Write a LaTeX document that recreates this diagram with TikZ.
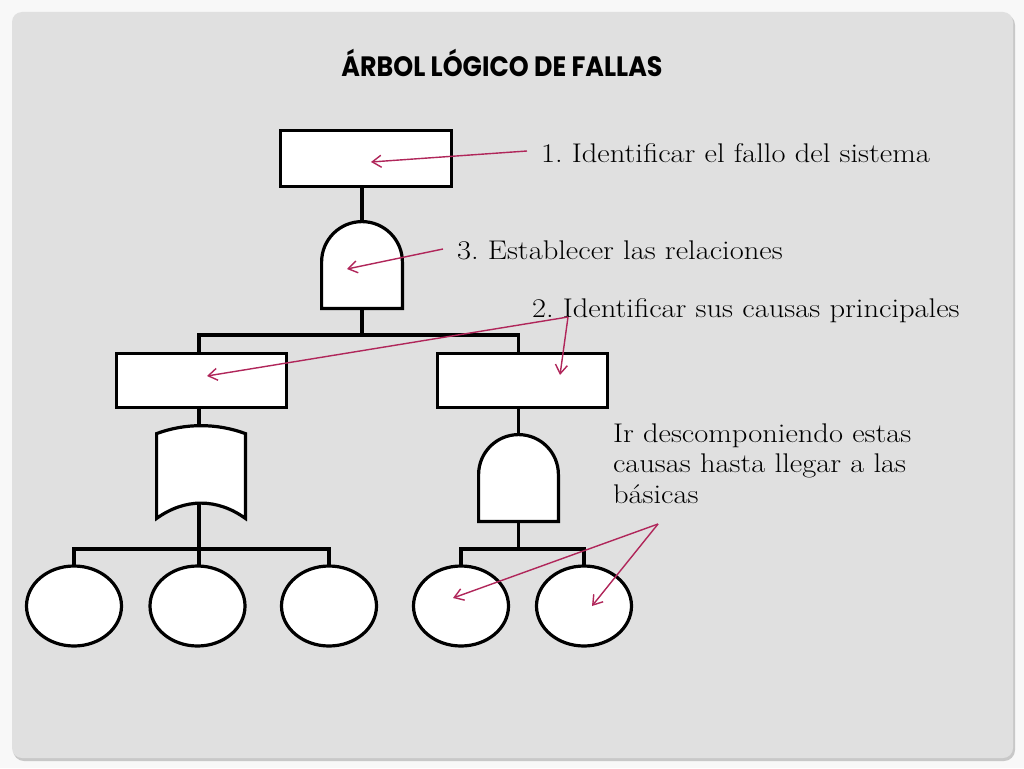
\documentclass[tikz,border=0pt]{standalone}
\usepackage{fontspec}
\usepackage{graphicx}
\newfontfamily\titlefont{Poppins}
\usetikzlibrary{shapes.geometric,arrows.meta}
\definecolor{panelc}{RGB}{224,224,224}
\definecolor{outerc}{RGB}{248,248,248}
\definecolor{shadowc}{RGB}{200,200,200}
\definecolor{arrowc}{RGB}{176,38,90}
\begin{document}
\frenchspacing
\begin{tikzpicture}[x=1pt,y=-1pt,
  box/.style={draw=black,line width=3.2pt,fill=white,minimum width=170.5pt,minimum height=55.5pt,inner sep=0pt,outer sep=0pt},
  basic/.style={draw=black,line width=3.2pt,fill=white,ellipse,minimum width=95pt,minimum height=80pt,inner sep=0pt,outer sep=0pt},
  gateshape/.style={draw=black,line width=3.2pt,fill=white,line join=miter},
  wire/.style={draw=black,line width=3.2pt},
  pointer/.style={draw=arrowc,line width=1.4pt,-{Straight Barb[length=9pt,width=12pt,line width=1.4pt]}},
  txt/.style={anchor=base west,inner sep=0pt,outer sep=0pt,font=\fontsize{27}{30.5}\selectfont}
]
\useasboundingbox (0,0) rectangle (1024,768);
\fill[outerc] (0,0) rectangle (1024,768);
\fill[shadowc,rounded corners=11pt] (13,14) rectangle (1015,761);
\fill[panelc,rounded corners=10pt] (12,12) rectangle (1013,758);

% title
\node[anchor=base,inner sep=0pt] (title) at (502,77)
  {\titlefont\bfseries\fontsize{28}{28}\selectfont\scalebox{0.905}[1]{ÁRBOL LÓGICO DE FALLAS}};

% boxes
\node[box] (top) at (366,158.5) {};
\node[box,minimum height=54pt] (ml) at (201.5,380.5) {};
\node[box,minimum height=54pt] (mr) at (522.5,380.5) {};

% top AND gate
\coordinate (g1in) at (362,221.6);
\coordinate (g1out) at (362,308.4);
\draw[gateshape] (321.6,308.4) -- (321.6,262) arc[start angle=180,end angle=360,radius=40.4] -- (402.4,308.4) -- cycle;

% OR gate under left box
\coordinate (orin) at (199,426);
\coordinate (orout) at (199,502);
\draw[gateshape] (156.6,433.6) .. controls (185,423) and (217,423) .. (245.4,433.6)
  -- (245.4,518.4) .. controls (217,498) and (185,498) .. (156.6,518.4) -- cycle;

% AND gate under right box
\coordinate (g2in) at (518.5,434.6);
\coordinate (g2out) at (518.5,521.4);
\draw[gateshape] (478.6,521.4) -- (478.6,474.5) arc[start angle=180,end angle=360,radius=39.9] -- (558.4,521.4) -- cycle;

% basic events
\node[basic] (e1) at (74,606) {};
\node[basic] (e2) at (197.5,606) {};
\node[basic] (e3) at (329,606) {};
\node[basic] (e4) at (461,606) {};
\node[basic] (e5) at (584,606) {};

% bus coordinates
\coordinate (bus1) at (362,335);
\coordinate (bus2) at (199,549);
\coordinate (bus3) at (518.5,549);

% wiring
\draw[wire] (top.south -| g1in) -- (g1in);
\draw[wire] (g1out) -- (bus1);
\draw[wire] (ml.north -| orin) |- (bus1) -| (mr.north -| g2in);
\draw[wire] (ml.south -| orin) -- (orin);
\draw[wire] (orout) -- (bus2);
\draw[wire] (e1.north) |- (bus2) -| (e3.north);
\draw[wire] (bus2) -- (e2.north -| bus2);
\draw[wire] (mr.south -| g2in) -- (g2in);
\draw[wire] (g2out) -- (bus3);
\draw[wire] (e4.north) |- (bus3) -| (e5.north);

% texts
\node[txt] (t1) at (541,162) {\scalebox{1.13}[1]{1. Identificar el fallo del sistema}};
\node[txt] (t3) at (457,259) {\scalebox{1.13}[1]{3. Establecer las relaciones}};
\node[txt] (t2) at (532,317) {\scalebox{1.13}[1]{2. Identificar sus causas principales}};
\node[txt] (t4) at (613,442) {\scalebox{1.13}[1]{\begin{tabular}[t]{@{}l@{}}Ir descomponiendo estas\\causas hasta llegar a las\\básicas\end{tabular}}};

% pointer coordinates
\coordinate (p1) at (527,151);
\coordinate (q1) at (371,162);
\coordinate (p3) at (443,249);
\coordinate (q3) at (347,269);
\coordinate (p2) at (568,317);
\coordinate (q2a) at (207,376);
\coordinate (q2b) at (560,375);
\coordinate (p4) at (658,524);
\coordinate (q4a) at (453,598);
\coordinate (q4b) at (592,606);

\draw[pointer] (p1) -- (q1);
\draw[pointer] (p3) -- (q3);
\draw[pointer] (p2) -- (q2a);
\draw[pointer] (p2) -- (q2b);
\draw[pointer] (p4) -- (q4a);
\draw[pointer] (p4) -- (q4b);
\end{tikzpicture}
\end{document}
